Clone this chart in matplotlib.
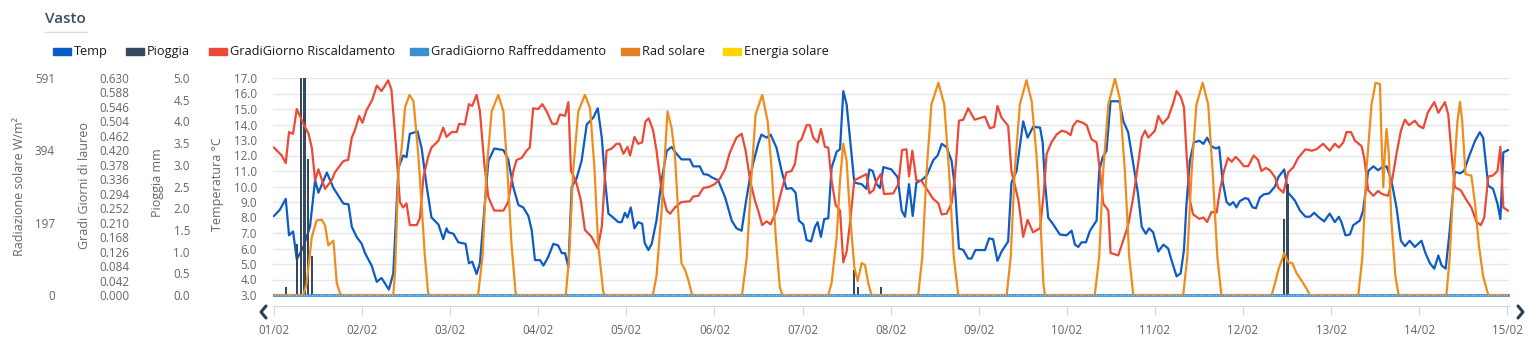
import numpy as np
import matplotlib.pyplot as plt
from matplotlib.lines import Line2D

plt.rcParams['font.family'] = ['Open Sans', 'DejaVu Sans']

W, H = 1539, 345

# ---- data (hours since 01/02 00:00, value) ----
temp_points = [
    (0, 8.1), (1.6, 8.5), (3.2, 9.2), (4.1, 6.85), (5.2, 7.1), (6.2, 5.3), (8, 6.1), (9.8, 7.4),
    (11.2, 10.4), (12.1, 9.6), (14.4, 10.9), (16.2, 9.9), (18.9, 8.9), (20.3, 8.85), (21.2, 7.4),
    (22.5, 6.75), (23.9, 6.3), (24.8, 5.7), (26.6, 4.9), (28, 3.85), (29.3, 4.1), (31.3, 3.35),
    (32.5, 4.4), (33.9, 11.2), (35.2, 12.0), (36.1, 11.9), (37, 13.4), (39.1, 13.55), (40.2, 12.5),
    (41.6, 10.0), (42.9, 8.0), (44.8, 7.55), (46.1, 6.6), (47, 7.3), (47.5, 7.05), (48.9, 6.95),
    (50.2, 6.4), (52.2, 6.3), (53.1, 5.05), (54, 5.15), (55.2, 4.35), (56.1, 5.05), (57.3, 8.45),
    (58.4, 11.65), (60, 12.45), (62.5, 12.35), (63.8, 11.75), (65.2, 9.95), (66.6, 8.8), (67.9, 8.65),
    (69.3, 8.1), (70.2, 7.2), (71.1, 5.25), (72.5, 5.25), (73.4, 4.9), (74.7, 5.45), (76.1, 6.3),
    (77.4, 6.2), (78.4, 5.7), (79.3, 5.7), (80.2, 4.8), (81.1, 9.95), (82.4, 10.5), (83.8, 11.65),
    (85.2, 14.0), (87, 14.45), (88.2, 15.05), (89.3, 13.15), (90.2, 10.4), (91.1, 8.25), (92.4, 8.0),
    (93.8, 7.7), (94.7, 7.7), (95.6, 8.3), (96.3, 8.0), (97.2, 8.65), (98.2, 7.3), (99.2, 7.7),
    (100.3, 7.6), (101, 6.35), (102, 5.9), (102.9, 6.3), (104.2, 7.8), (105.6, 10.4), (107, 12.3),
    (108.3, 12.55), (109.7, 12.1), (111, 11.75), (113.3, 11.75), (114.2, 11.3), (116, 11.3),
    (117, 10.8), (118.3, 10.75), (119.2, 10.6), (121, 10.4), (122.9, 9.3), (124.7, 7.8), (126, 7.3),
    (127.4, 7.15), (128.5, 8.9), (129.7, 10.6), (130.6, 11.55), (131.9, 12.75), (132.8, 13.35),
    (134.2, 13.15), (135.3, 13.35), (136.9, 12.5), (138.3, 11.0), (139.6, 9.85), (141, 9.9),
    (142.1, 9.6), (143, 7.8), (144.2, 7.55), (145.1, 6.55), (146.3, 6.45), (147.4, 7.4), (148.1, 7.7),
    (149, 6.75), (149.9, 7.9), (151, 7.95), (151.9, 11.2), (153.3, 12.25), (154.2, 12.4),
    (155.1, 16.15), (156, 15.3), (156.9, 13.15), (158.1, 10.25), (160.1, 10.15), (161.4, 9.85),
    (162.2, 11.1), (163.1, 11.0), (164.2, 10.15), (165.1, 9.9), (166, 11.25), (168.2, 11.1),
    (169.9, 10.6), (171, 8.45), (171.9, 8.05), (173, 10.15), (174, 8.1), (175, 10.25), (176.4, 10.4),
    (177.8, 10.7), (179.6, 11.7), (180.8, 12.0), (181.9, 12.75), (183.2, 12.55), (184.6, 11.65),
    (185.5, 9.95), (186.6, 6.0), (187.8, 5.9), (189.1, 5.35), (190, 5.35), (191.1, 5.9), (193.7, 5.9),
    (194.8, 6.65), (195.9, 6.6), (197.1, 5.2), (198.2, 5.8), (200, 6.45), (200.9, 10.25), (202.3, 11.0),
    (204.1, 14.2), (205.3, 13.15), (206.8, 13.85), (208.7, 13.8), (209.4, 12.85), (210, 10.4),
    (210.9, 8.0), (212.3, 7.55), (214.1, 6.9), (215.9, 6.85), (217.3, 7.15), (218.2, 6.25),
    (219.1, 6.1), (220, 6.4), (221.2, 6.4), (222.3, 7.15), (224.1, 7.8), (224.8, 11.0), (225.7, 11.85),
    (226.8, 12.3), (227.9, 15.5), (230.3, 15.5), (231.4, 14.2), (232.7, 13.5), (234.1, 11.45),
    (235.4, 9.5), (236.4, 7.4), (237.5, 6.95), (238.4, 7.3), (239.5, 7.05), (240.9, 5.8), (242.3, 6.25),
    (243.6, 6.0), (244.5, 5.25), (245.9, 4.2), (247, 4.4), (247.9, 5.9), (248.6, 8.9), (249.5, 11.65),
    (250.6, 12.85), (252.1, 12.95), (253.2, 12.75), (254.2, 13.15), (255.4, 12.6), (256.6, 12.45),
    (257.5, 12.55), (258.4, 10.4), (259.5, 9.0), (260.4, 8.8), (261.3, 9.0), (262.2, 8.65),
    (263.1, 9.05), (264.5, 9.25), (265.4, 9.2), (266.6, 8.65), (267.5, 8.6), (268.6, 9.3), (269.7, 9.5),
    (271.1, 9.55), (272.7, 10.0), (273.6, 10.6), (275.2, 11.1), (276.3, 9.6), (278.1, 9.1),
    (279.5, 8.45), (281, 8.05), (282.2, 8.05), (283.4, 8.3), (284.7, 8.0), (286.1, 7.75), (287.6, 8.25),
    (289, 7.7), (290.1, 8.05), (290.8, 7.7), (291.9, 6.85), (293.1, 6.9), (294, 7.5), (295.8, 7.8),
    (296.7, 8.45), (298.1, 11.0), (299.5, 11.3), (300.8, 11.05), (301.9, 11.25), (303.1, 11.3),
    (304.4, 10.4), (305.8, 8.65), (307, 6.5), (308.1, 6.15), (309.4, 6.5), (310.8, 6.1), (312.6, 6.5),
    (313.7, 5.7), (314.9, 5.05), (316.1, 4.7), (317.2, 5.55), (318.1, 4.9), (319.2, 4.7), (320.3, 7.15),
    (321.7, 10.95), (323.1, 10.85), (324.2, 11.0), (325.5, 11.9), (327.2, 12.95), (328.5, 13.5),
    (329.4, 13.15), (330.8, 10.05), (332.1, 9.85), (333.3, 8.9), (334.1, 7.9), (334.9, 12.2),
    (336.2, 12.35),
]

rain_points = [
    (3.2, 0.19), (6.2, 1.18), (7.4, 5.0), (8.3, 5.0), (9.2, 3.14), (10.3, 0.89),
    (158.1, 0.57), (159.2, 0.19), (165.3, 0.19), (275.1, 1.75), (276.1, 2.55),
]

heating_points = [
    (0, 0.428), (2.1, 0.405), (3.2, 0.383), (4.1, 0.473), (5.2, 0.468), (6.2, 0.540), (7.5, 0.509),
    (9.4, 0.468), (10.3, 0.428), (11.2, 0.333), (12.1, 0.365), (13.9, 0.308), (15.7, 0.333),
    (16.6, 0.356), (18.9, 0.389), (20.2, 0.392), (21.2, 0.457), (22, 0.477), (23.2, 0.520),
    (24.1, 0.500), (25.2, 0.536), (26.8, 0.567), (28, 0.608), (29.3, 0.592), (31.1, 0.623),
    (32, 0.596), (33.2, 0.437), (34.3, 0.270), (35.2, 0.254), (36.1, 0.266), (37, 0.203),
    (38.9, 0.203), (39.8, 0.225), (40.7, 0.342), (42, 0.401), (42.9, 0.428), (44.8, 0.448),
    (46.1, 0.486), (47, 0.459), (48.4, 0.473), (49.8, 0.473), (50.4, 0.497), (52, 0.495),
    (53.1, 0.554), (54, 0.549), (55.2, 0.581), (56.1, 0.533), (57.3, 0.380), (58.4, 0.284),
    (60, 0.245), (62.5, 0.245), (63.8, 0.270), (65.2, 0.360), (66.1, 0.392), (67.5, 0.398),
    (68.8, 0.419), (69.7, 0.428), (70.6, 0.542), (72, 0.540), (73.1, 0.554), (74.3, 0.533),
    (75.8, 0.497), (77, 0.497), (77.9, 0.524), (79.3, 0.520), (80.2, 0.560), (80.9, 0.360),
    (82.2, 0.333), (83.6, 0.275), (84.7, 0.189), (86.5, 0.169), (88.2, 0.135), (89.3, 0.198),
    (90.6, 0.419), (92, 0.425), (93.3, 0.439), (94.2, 0.439), (95.2, 0.410), (96.3, 0.430),
    (97, 0.405), (98.2, 0.459), (99.2, 0.439), (100.3, 0.443), (101.2, 0.504), (102.1, 0.513),
    (103.3, 0.477), (104.2, 0.419), (105.6, 0.304), (107, 0.245), (107.9, 0.236), (109.2, 0.254),
    (111, 0.270), (113.3, 0.272), (114.2, 0.286), (115.6, 0.288), (117, 0.311), (118.3, 0.313),
    (120.1, 0.322), (121.5, 0.338), (122.9, 0.365), (124.2, 0.414), (126, 0.457), (127.4, 0.468),
    (128.5, 0.419), (129.7, 0.333), (131, 0.275), (131.9, 0.245), (133, 0.203), (134.2, 0.214),
    (135.3, 0.205), (136.9, 0.245), (138.3, 0.304), (139.6, 0.356), (141, 0.360), (141.9, 0.380),
    (142.8, 0.443), (143.7, 0.452), (145.1, 0.493), (146, 0.493), (146.9, 0.457), (148.1, 0.443),
    (149, 0.482), (150.1, 0.430), (151, 0.428), (151.9, 0.333), (153, 0.261), (154.2, 0.245),
    (155.1, 0.095), (156, 0.126), (156.9, 0.207), (158.1, 0.333), (160.1, 0.344), (161.4, 0.351),
    (162.2, 0.295), (163.3, 0.304), (164.2, 0.333), (165.3, 0.351), (166.2, 0.293), (168.7, 0.295),
    (170.1, 0.322), (171.1, 0.421), (172.3, 0.423), (173, 0.344), (173.9, 0.419), (175, 0.333),
    (176.4, 0.331), (177.8, 0.308), (179.6, 0.279), (181, 0.266), (181.9, 0.234), (183.2, 0.236),
    (184.6, 0.266), (185.5, 0.342), (186.6, 0.506), (187.8, 0.509), (189.1, 0.542), (190.9, 0.509),
    (193.7, 0.518), (195, 0.484), (196.2, 0.488), (197.1, 0.549), (198.2, 0.515), (200, 0.491),
    (200.9, 0.360), (202.8, 0.275), (204.1, 0.169), (205.3, 0.218), (206.8, 0.182), (208.7, 0.194),
    (209.6, 0.284), (210.5, 0.410), (211.8, 0.443), (213.2, 0.466), (214.6, 0.477), (215.9, 0.473),
    (217, 0.464), (217.7, 0.491), (218.8, 0.506), (220.3, 0.500), (221.4, 0.493), (222.7, 0.452),
    (224.1, 0.443), (225, 0.360), (225.9, 0.266), (227.3, 0.245), (227.9, 0.122), (230, 0.115),
    (231.4, 0.160), (232.7, 0.203), (234.1, 0.284), (235.2, 0.365), (236.4, 0.457), (237.3, 0.477),
    (238.2, 0.457), (240, 0.477), (240.9, 0.520), (242.1, 0.497), (243.6, 0.515), (245, 0.558),
    (245.9, 0.592), (247, 0.576), (247.9, 0.545), (248.6, 0.410), (249.5, 0.275), (250.4, 0.234),
    (252.1, 0.221), (253.2, 0.225), (254.2, 0.212), (255.4, 0.241), (256.8, 0.239), (257.7, 0.304),
    (258.8, 0.360), (259.9, 0.398), (260.9, 0.387), (262, 0.401), (263.1, 0.389), (264.2, 0.374),
    (265.4, 0.374), (266.9, 0.405), (268.1, 0.392), (269, 0.360), (270.2, 0.369), (271.3, 0.362),
    (272.7, 0.342), (273.6, 0.311), (275, 0.297), (276.3, 0.356), (277.7, 0.371), (279, 0.398),
    (281, 0.423), (282.7, 0.419), (284, 0.423), (285.8, 0.439), (287.6, 0.419), (289, 0.439),
    (290.1, 0.428), (291.3, 0.443), (292.2, 0.473), (293.4, 0.473), (294.5, 0.448), (296.3, 0.432),
    (297, 0.398), (298.1, 0.304), (299.5, 0.288), (300.8, 0.302), (301.9, 0.293), (303.5, 0.288),
    (304.6, 0.333), (305.8, 0.410), (307, 0.477), (308.1, 0.509), (309.2, 0.493), (310.8, 0.506),
    (311.9, 0.491), (313.1, 0.484), (314.3, 0.529), (316.1, 0.560), (317.2, 0.529), (319, 0.560),
    (319.9, 0.524), (320.8, 0.410), (321.7, 0.313), (323.3, 0.304), (324.9, 0.275), (326.2, 0.254),
    (327.6, 0.212), (328.8, 0.203), (329.7, 0.225), (330.8, 0.344), (332.1, 0.347), (333.3, 0.360),
    (334.1, 0.430), (334.9, 0.254), (336.2, 0.245),
]

cooling_points = [(0, 0.0), (336.2, 0.0)]

rad_points = [
    (0, 0), (8, 0), (8.9, 32), (10.3, 158), (11.6, 203), (13, 205), (13.9, 190), (14.8, 135),
    (16.2, 148), (17.1, 32), (18, 4), (18.4, 0),
    (32.5, 0), (33, 68), (33.9, 338), (34.8, 401), (35.7, 511), (36.9, 545), (38, 528), (39.3, 384),
    (40.2, 249), (41.1, 106), (42, 4), (42.5, 0),
    (55.6, 0), (56.8, 103), (57.9, 338), (59.3, 500), (61.1, 545), (62.5, 500), (63.6, 338),
    (64.7, 139), (65.8, 8), (66.1, 0),
    (79.5, 0), (80.4, 103), (81.5, 338), (82.9, 500), (84.7, 545), (86.1, 509), (87.3, 346),
    (88.3, 139), (89.7, 8), (90.2, 0),
    (103.2, 0), (104.2, 51), (105.6, 230), (106.5, 384), (107.2, 500), (108.3, 456), (109.2, 384),
    (110.1, 230), (111, 87), (112, 68), (112.9, 40), (113.8, 4), (114.2, 0),
    (127.5, 0), (128.8, 103), (130, 312), (131.2, 492), (133, 545), (134.5, 473), (135.6, 338),
    (136.7, 158), (137.8, 21), (138.5, 0),
    (151, 0), (151.9, 32), (153.3, 158), (154.2, 312), (155.1, 412), (156, 365), (156.9, 222),
    (158.1, 76), (159, 38), (160.1, 87), (161, 82), (161.9, 32), (162.8, 0),
    (175.5, 0), (176.6, 103), (177.8, 338), (179.1, 519), (181, 578), (182.6, 519), (183.9, 338),
    (185.2, 103), (186.4, 0),
    (199.6, 0), (200.7, 103), (201.8, 338), (203.2, 519), (205, 585), (206.4, 528), (207.7, 384),
    (208.7, 225), (209.6, 32), (210, 0),
    (223.6, 0), (224.8, 103), (225.9, 338), (227.3, 519), (229.1, 589), (230.4, 536), (231.8, 338),
    (233, 103), (234.1, 0),
    (247.7, 0), (248.8, 103), (250, 338), (251.3, 519), (253, 578), (254.5, 519), (255.7, 338),
    (257, 103), (258.1, 0),
    (271.8, 0), (272.7, 32), (273.6, 68), (275.2, 114), (276.3, 89), (277.4, 87), (278.6, 59),
    (279.9, 40), (281.3, 17), (282.2, 0),
    (295.4, 0), (296.5, 103), (297.6, 338), (299, 519), (300.1, 578), (301.3, 574), (301.7, 428),
    (302.2, 293), (302.6, 384), (303.1, 452), (303.7, 384), (304.4, 203), (305.5, 51), (306.4, 0),
    (319.4, 0), (320.3, 103), (321.5, 338), (322.4, 473), (323.1, 526), (323.7, 473), (324.6, 329),
    (326.2, 325), (327.2, 249), (328.2, 139), (329.4, 51), (330.8, 0), (336.2, 0),
]

day_labels = ['01/02', '02/02', '03/02', '04/02', '05/02', '06/02', '07/02', '08/02',
              '09/02', '10/02', '11/02', '12/02', '13/02', '14/02', '15/02']

temp_ticks = np.arange(3.0, 17.01, 1.0)
rain_ticks = np.arange(0.0, 5.01, 0.5)
gg_ticks = np.arange(0.0, 0.6301, 0.042)
rad_ticks = [0, 197, 394, 591]

c_temp = '#0d5bc4'
c_rain = '#34495e'
c_heat = '#ea4a36'
c_cool = '#3a8fd0'
c_rad = '#f08c1c'
c_energy = '#ffd500'
c_txt = '#666666'


def fx(px):
    return px / W


def fy(py):
    return 1 - py / H


fig = plt.figure(figsize=(W / 100, H / 100), dpi=100)
left, right, top, bottom = 273, 1509, 78, 295
ax = fig.add_axes([fx(left), fy(bottom), (right - left) / W, (bottom - top) / H])

ax_rain = ax.twinx()
ax_gg = ax.twinx()
ax_rad = ax.twinx()

# temperature
th, tv = zip(*temp_points)
ax.plot(th, tv, color=c_temp, lw=1.6, zorder=3, solid_joinstyle='round')
ax.set_ylim(3.0, 17.0)
ax.set_xlim(-0.27, 336.45)
ax.set_yticks(temp_ticks)
ax.yaxis.set_major_formatter(plt.FormatStrFormatter('%.1f'))
ax.grid(axis='y', color='#e6e6e6', lw=1)
ax.set_axisbelow(True)

# rain
rh, rv = zip(*rain_points)
ax_rain.bar(rh, rv, width=0.6, color=c_rain, zorder=3)
ax_rain.set_ylim(0, 5.0)
ax_rain.set_yticks(rain_ticks)
ax_rain.yaxis.set_major_formatter(plt.FormatStrFormatter('%.1f'))

# degree days
hh, hv = zip(*heating_points)
ax_gg.plot(hh, hv, color=c_heat, lw=1.6, solid_joinstyle='round')
ch, cv = zip(*cooling_points)
ax_gg.plot(ch, cv, color=c_cool, lw=2.0, clip_on=False)
ax_gg.plot(ch, cv, color='#9cc7ea', lw=0.8, ls=(0, (1.2, 1.2)), clip_on=False)
ax_gg.set_ylim(0, 0.63)
ax_gg.set_yticks(gg_ticks)
ax_gg.yaxis.set_major_formatter(plt.FormatStrFormatter('%.3f'))

# solar radiation
sh, sv = zip(*rad_points)
ax_rad.plot(sh, sv, color=c_rad, lw=1.6, solid_joinstyle='round')
ax_rad.set_ylim(0, 591)
ax_rad.set_yticks(rad_ticks)

# left-hand scales, all stacked to the left of the plot
pads = {ax: 16, ax_rain: 83, ax_gg: 144, ax_rad: 218}
for a, pad_px in pads.items():
    a.yaxis.set_ticks_position('left')
    a.tick_params(axis='y', length=0, pad=pad_px * 0.72, labelsize=8.4, labelcolor=c_txt)
    for s in a.spines.values():
        s.set_visible(False)
    a.set_xlim(ax.get_xlim())

# x axis
ax.set_xticks(np.arange(0, 337, 24))
ax.set_xticklabels(day_labels)
ax.spines['bottom'].set_visible(True)
ax.spines['bottom'].set_position(('outward', 7.6))
ax.spines['bottom'].set_color('#ccd6eb')
ax.tick_params(axis='x', direction='out', length=6.5, color='#ccd6eb', labelsize=8.4,
               labelcolor=c_txt, pad=7)
for a in (ax_rain, ax_gg, ax_rad):
    a.tick_params(axis='x', length=0, labelbottom=False, labeltop=False)

# axis titles
fig.text(fx(20), fy(186), 'Radiazione solare W/m²', rotation=90, ha='center', va='center',
         fontsize=9, color=c_txt)
fig.text(fx(84), fy(186), 'Gradi Giorni di laureo', rotation=90, ha='center', va='center',
         fontsize=9, color=c_txt)
fig.text(fx(158), fy(183), 'Pioggia mm', rotation=90, ha='center', va='center',
         fontsize=9, color=c_txt)
fig.text(fx(218), fy(184), 'Temperatura °C', rotation=90, ha='center', va='center',
         fontsize=9, color=c_txt)

# title
fig.text(fx(45), fy(19), 'Vasto', ha='left', va='center', fontsize=11, color='#3b4d66',
         fontweight='semibold')
fig.add_artist(Line2D([fx(45), fx(87)], [fy(31.5), fy(31.5)], color='#dcdcdc', lw=1))

# legend
legend_items = [
    ('Temp', c_temp, 53), ('Pioggia', c_rain, 126), ('GradiGiorno Riscaldamento', c_heat, 209),
    ('GradiGiorno Raffreddamento', c_cool, 410), ('Rad solare', '#e67e22', 621),
    ('Energia solare', c_energy, 723),
]
for label, color, x0 in legend_items:
    fig.add_artist(plt.Rectangle((fx(x0), fy(55)), 18 / W, 6.5 / H, color=color,
                                 transform=fig.transFigure))
    fig.text(fx(x0 + 21), fy(51.5), label, ha='left', va='center', fontsize=9.2, color='#1a1a1a',
             fontweight='medium')

# navigation chevrons
fig.add_artist(Line2D([fx(266), fx(261), fx(266)], [fy(306), fy(312), fy(318)],
                      color='#2c3e50', lw=2.2, solid_capstyle='round'))
fig.add_artist(Line2D([fx(1518), fx(1523), fx(1518)], [fy(306), fy(312), fy(318)],
                      color='#2c3e50', lw=2.2, solid_capstyle='round'))

fig.savefig('out.png', dpi=100)
